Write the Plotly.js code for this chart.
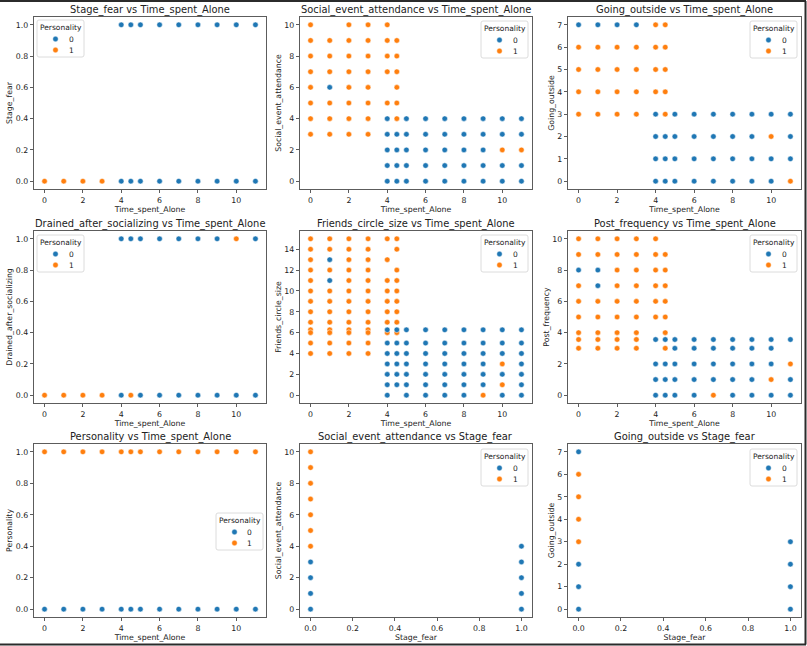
<!DOCTYPE html>
<html>
<head>
<meta charset="utf-8">
<script src="https://cdn.plot.ly/plotly-3.0.1.min.js"></script>
<style>
  html, body { margin: 0; padding: 0; background: #ffffff; }
  #chart { width: 807px; height: 646px; }
</style>
</head>
<body>
<div id="chart"></div>
<script>
// ---- Data: [x, y] pairs for each pair plot, split by Personality (0 / 1) ----
const personalityLabels = ['0', '1'];
const timeTicks = [0, 2, 4, 6, 8, 10];
const unitTicks = [0, 0.2, 0.4, 0.6, 0.8, 1.0];

// Stage_fear vs Time_spent_Alone
const stageFearTime0 = [[4,1],[4.5,1],[5,1],[6,1],[7,1],[8,1],[9,1],[10,1],[11,1],
                        [4,0],[4.5,0],[5,0],[6,0],[7,0],[8,0],[9,0],[10,0],[11,0]];
const stageFearTime1 = [[0,0],[1,0],[2,0],[3,0]];

// Social_event_attendance vs Time_spent_Alone
const socialTime0 = [[1,6],
  [4,4],[4,3],[4,2],[4,1],[4,0], [4.5,3],[4.5,2],[4.5,1],[4.5,0],
  [5,4],[5,3],[5,2],[5,1],[5,0], [6,4],[6,3],[6,2],[6,1],[6,0],
  [7,4],[7,3],[7,2],[7,1],[7,0], [8,4],[8,3],[8,2],[8,1],[8,0],
  [9,4],[9,3],[9,2],[9,1],[9,0], [10,4],[10,3],[10,1],[10,0],
  [11,4],[11,3],[11,1],[11,0]];
const socialTime1 = [
  [0,10],[0,9],[0,8],[0,7],[0,6],[0,5],[0,4],[0,3],
  [1,9],[1,8],[1,7],[1,5],[1,4],[1,3],
  [2,10],[2,9],[2,8],[2,7],[2,6],[2,5],[2,4],[2,3],
  [3,10],[3,9],[3,8],[3,7],[3,6],[3,5],[3,4],[3,3],
  [4,10],[4,9],[4,8],[4,7],[4,5],
  [4.5,9],[4.5,8],[4.5,7],[4.5,6],[4.5,5],[4.5,4],
  [10,2],[11,2]];

// Going_outside vs Time_spent_Alone
const goingTime0 = [[0,7],[1,7],[2,7],[3,7],
  [4,3],[4,2],[4,1],[4,0], [4.5,2],[4.5,1],[4.5,0],
  [5,3],[5,2],[5,1],[5,0], [6,3],[6,2],[6,1],[6,0],
  [7,3],[7,2],[7,1],[7,0], [8,3],[8,2],[8,1],[8,0],
  [9,3],[9,2],[9,1],[9,0], [10,3],[10,1],[10,0],
  [11,3],[11,2],[11,1]];
const goingTime1 = [
  [0,6],[0,5],[0,4],[0,3], [1,6],[1,5],[1,4],[1,3],
  [2,6],[2,5],[2,4],[2,3], [3,6],[3,5],[3,4],[3,3],
  [4,7],[4,6],[4,5],[4,4], [4.5,7],[4.5,6],[4.5,5],[4.5,4],[4.5,3],
  [10,2],[11,0]];

// Drained_after_socializing vs Time_spent_Alone
const drainedTime0 = [[4,1],[4.5,1],[5,1],[6,1],[7,1],[8,1],[9,1],[11,1],
                      [4,0],[5,0],[6,0],[7,0],[8,0],[9,0],[10,0],[11,0]];
const drainedTime1 = [[10,1],[0,0],[1,0],[2,0],[3,0],[4.5,0]];

// Friends_circle_size vs Time_spent_Alone (6.27 is the filled-in mean value)
const friendsTime0 = [[1,13],[1,11],
  [4,6.27],[4,5],[4,4],[4,3],[4,2],[4,1],[4,0],
  [4.5,6.27],[4.5,5],[4.5,4],[4.5,3],[4.5,2],[4.5,1],
  [5,6.27],[5,5],[5,4],[5,3],[5,2],[5,1],[5,0],
  [6,6.27],[6,5],[6,4],[6,3],[6,2],[6,1],[6,0],
  [7,6.27],[7,5],[7,4],[7,3],[7,2],[7,1],[7,0],
  [8,6.27],[8,5],[8,4],[8,3],[8,2],[8,1],[8,0],
  [9,6.27],[9,5],[9,4],[9,3],[9,2],[9,1],
  [10,6.27],[10,5],[10,4],[10,2],[10,0],
  [11,6.27],[11,5],[11,4],[11,3],[11,2],[11,1],[11,0]];
const friendsTime1 = [
  [0,15],[0,14],[0,13],[0,12],[0,11],[0,10],[0,9],[0,8],[0,7],[0,6.27],[0,6],[0,5],[0,4],
  [1,15],[1,14],[1,12],[1,10],[1,9],[1,8],[1,7],[1,6.27],[1,6],[1,5],[1,4],
  [2,15],[2,14],[2,13],[2,12],[2,11],[2,10],[2,9],[2,8],[2,7],[2,6.27],[2,6],[2,5],[2,4],
  [3,15],[3,14],[3,13],[3,12],[3,11],[3,10],[3,9],[3,8],[3,7],[3,6.27],[3,6],[3,5],[3,4],
  [4,15],[4,13],[4,11],[4,10],[4,9],[4,8],[4,7],[4,6],
  [4.5,15],[4.5,14],[4.5,12],[4.5,11],[4.5,10],[4.5,9],[4.5,8],[4.5,7],[4.5,6],
  [9,0],[10,3],[10,1]];

// Post_frequency vs Time_spent_Alone (3.56 is the filled-in mean value)
const postTime0 = [[0,8],[1,8],[1,7],
  [4,3.56],[4,2],[4,1],[4,0], [4.5,3.56],[4.5,2],[4.5,1],[4.5,0],
  [5,3.56],[5,3],[5,2],[5,1],[5,0], [6,3.56],[6,3],[6,2],[6,1],[6,0],
  [7,3.56],[7,3],[7,2],[7,1], [8,3.56],[8,3],[8,2],[8,1],[8,0],
  [9,3.56],[9,3],[9,2],[9,1],[9,0], [10,3.56],[10,3],[10,2],[10,0],
  [11,3.56],[11,1],[11,0]];
const postTime1 = [
  [0,10],[0,9],[0,7],[0,6],[0,5],[0,4],[0,3.56],[0,3],
  [1,10],[1,9],[1,6],[1,5],[1,4],[1,3.56],[1,3],
  [2,10],[2,9],[2,8],[2,7],[2,6],[2,5],[2,4],[2,3.56],[2,3],
  [3,10],[3,9],[3,8],[3,7],[3,6],[3,5],[3,4],[3,3.56],[3,3],
  [4,10],[4,9],[4,8],[4,7],[4,6],[4,5],
  [4.5,9],[4.5,8],[4.5,7],[4.5,6],[4.5,5],[4.5,4],[4.5,3],
  [7,0],[10,1],[11,2]];

// Personality vs Time_spent_Alone
const timeValues = [0, 1, 2, 3, 4, 4.5, 5, 6, 7, 8, 9, 10, 11];
const personalityTime0 = timeValues.map(t => [t, 0]);
const personalityTime1 = timeValues.map(t => [t, 1]);

// Social_event_attendance vs Stage_fear
const socialFear0 = [[0,3],[0,2],[0,1],[0,0],[1,4],[1,3],[1,2],[1,1],[1,0]];
const socialFear1 = [[0,10],[0,9],[0,8],[0,7],[0,6],[0,5],[0,4]];

// Going_outside vs Stage_fear
const goingFear0 = [[0,7],[0,2],[0,1],[0,0],[1,3],[1,2],[1,1],[1,0]];
const goingFear1 = [[0,6],[0,5],[0,4],[0,3]];

// ---- Layout geometry (pixels) ----
const W = 807, H = 646;
const colPx = [[34, 266], [300, 532], [568, 801]];
const rowPx = [[17, 189], [231, 403], [444, 617]];
const BLUE = '#1f77b4', ORANGE = '#ff7f0e';
const FONT = 'DejaVu Sans, Liberation Sans, sans-serif';
const TXT = '#222222';

const panels = [
  {title: 'Stage_fear vs Time_spent_Alone', xt: 'Time_spent_Alone', yt: 'Stage_fear',
   d0: stageFearTime0, d1: stageFearTime1, xs: 'time', ys: 'unit', leg: [37, 20]},
  {title: 'Social_event_attendance vs Time_spent_Alone', xt: 'Time_spent_Alone', yt: 'Social_event_attendance',
   d0: socialTime0, d1: socialTime1, xs: 'time', ys: 'ten', leg: [481, 21]},
  {title: 'Going_outside vs Time_spent_Alone', xt: 'Time_spent_Alone', yt: 'Going_outside',
   d0: goingTime0, d1: goingTime1, xs: 'time', ys: 'seven', leg: [750, 21]},
  {title: 'Drained_after_socializing vs Time_spent_Alone', xt: 'Time_spent_Alone', yt: 'Drained_after_socializing',
   d0: drainedTime0, d1: drainedTime1, xs: 'time', ys: 'unit', leg: [37, 235]},
  {title: 'Friends_circle_size vs Time_spent_Alone', xt: 'Time_spent_Alone', yt: 'Friends_circle_size',
   d0: friendsTime0, d1: friendsTime1, xs: 'time', ys: 'fifteen', leg: [481, 235]},
  {title: 'Post_frequency vs Time_spent_Alone', xt: 'Time_spent_Alone', yt: 'Post_frequency',
   d0: postTime0, d1: postTime1, xs: 'time', ys: 'ten', leg: [750, 235]},
  {title: 'Personality vs Time_spent_Alone', xt: 'Time_spent_Alone', yt: 'Personality',
   d0: personalityTime0, d1: personalityTime1, xs: 'time', ys: 'unit', leg: [216, 513]},
  {title: 'Social_event_attendance vs Stage_fear', xt: 'Stage_fear', yt: 'Social_event_attendance',
   d0: socialFear0, d1: socialFear1, xs: 'unit', ys: 'ten', leg: [481, 449]},
  {title: 'Going_outside vs Stage_fear', xt: 'Stage_fear', yt: 'Going_outside',
   d0: goingFear0, d1: goingFear1, xs: 'unit', ys: 'seven', leg: [750, 449]}
];

const scales = {
  time:    {range: [-0.55, 11.55], tickvals: timeTicks},
  unit:    {range: [-0.05, 1.05], tickvals: unitTicks, tickformat: '.1f'},
  ten:     {range: [-0.5, 10.5], tick0: 0, dtick: 2},
  seven:   {range: [-0.35, 7.35], tick0: 0, dtick: 1},
  fifteen: {range: [-0.75, 15.75], tick0: 0, dtick: 2}
};

function axis(scale, domain, titleText, anchor, isY) {
  const a = {
    domain: domain, anchor: anchor,
    range: scale.range.slice(),
    showline: true, mirror: true, linecolor: '#333333', linewidth: 0.8,
    ticks: 'outside', ticklen: 3.5, tickwidth: 0.8, tickcolor: '#333333',
    showgrid: false, zeroline: false, fixedrange: true,
    tickfont: {family: FONT, size: 7.8, color: TXT},
    title: {text: titleText, font: {family: FONT, size: 7.8, color: TXT}, standoff: isY ? 1 : 1}
  };
  if (scale.tickvals) { a.tickmode = 'array'; a.tickvals = scale.tickvals; }
  else { a.tickmode = 'linear'; a.tick0 = scale.tick0; a.dtick = scale.dtick; }
  if (scale.tickformat) a.tickformat = scale.tickformat;
  return a;
}

const px = v => v / W;          // horizontal pixel -> paper fraction
const py = v => 1 - v / H;      // vertical pixel (from top) -> paper fraction

const data = [];
const layout = {
  width: W, height: H,
  margin: {l: 0, r: 0, t: 0, b: 0},
  paper_bgcolor: '#ffffff', plot_bgcolor: '#ffffff',
  hovermode: false, showlegend: false,
  font: {family: FONT, color: TXT},
  annotations: [],
  shapes: []
};

// Small boxed key ("Personality" with 0 / 1) placed at a pixel position
function addKey(left, top) {
  const w = 47, h = 37, r = 2;
  const x0 = left, x1 = left + w, y0 = top, y1 = top + h;
  const path = [
    'M', px(x0 + r), py(y0), 'L', px(x1 - r), py(y0),
    'Q', px(x1), py(y0), px(x1), py(y0 + r),
    'L', px(x1), py(y1 - r),
    'Q', px(x1), py(y1), px(x1 - r), py(y1),
    'L', px(x0 + r), py(y1),
    'Q', px(x0), py(y1), px(x0), py(y1 - r),
    'L', px(x0), py(y0 + r),
    'Q', px(x0), py(y0), px(x0 + r), py(y0), 'Z'
  ].join(' ');
  layout.shapes.push({type: 'path', path: path, xref: 'paper', yref: 'paper', layer: 'above',
    fillcolor: 'rgba(255,255,255,0.85)', line: {color: '#d3d3d3', width: 0.8}});
  layout.annotations.push({text: 'Personality', xref: 'paper', yref: 'paper',
    x: px(left + 23.5), y: py(top + 7.5), xanchor: 'center', yanchor: 'middle', showarrow: false,
    font: {family: FONT, size: 7.5, color: TXT}});
  [[BLUE, personalityLabels[0], 19], [ORANGE, personalityLabels[1], 30]].forEach(([col, lab, dy]) => {
    const cx = left + 18.5, cy = top + dy, rad = 2.7;
    layout.shapes.push({type: 'circle', xref: 'paper', yref: 'paper', layer: 'above',
      x0: px(cx - rad), x1: px(cx + rad), y0: py(cy + rad), y1: py(cy - rad),
      fillcolor: col, line: {color: '#ffffff', width: 0.4}});
    layout.annotations.push({text: lab, xref: 'paper', yref: 'paper',
      x: px(left + 34), y: py(cy), xanchor: 'center', yanchor: 'middle', showarrow: false,
      font: {family: FONT, size: 7.5, color: TXT}});
  });
}

panels.forEach((p, i) => {
  const r = Math.floor(i / 3), c = i % 3;
  const n = i === 0 ? '' : String(i + 1);
  const xd = [px(colPx[c][0]), px(colPx[c][1])];
  const yd = [py(rowPx[r][1]), py(rowPx[r][0])];
  layout['xaxis' + n] = axis(scales[p.xs], xd, p.xt, 'y' + n, false);
  layout['yaxis' + n] = axis(scales[p.ys], yd, p.yt, 'x' + n, true);

  // orange drawn first so the blue marks sit on top where they touch
  [[p.d1, ORANGE, personalityLabels[1]], [p.d0, BLUE, personalityLabels[0]]].forEach(([pts, col, name]) => {
    data.push({
      type: 'scatter', mode: 'markers', name: name,
      x: pts.map(q => q[0]), y: pts.map(q => q[1]),
      xaxis: 'x' + n, yaxis: 'y' + n,
      marker: {color: col, size: 5.5, line: {color: '#ffffff', width: 0.5}},
      cliponaxis: false
    });
  });

  layout.annotations.push({
    text: p.title, xref: 'paper', yref: 'paper',
    x: px((colPx[c][0] + colPx[c][1]) / 2), y: py(rowPx[r][0] - 7),
    xanchor: 'center', yanchor: 'middle', showarrow: false,
    font: {family: FONT, size: 9.9, color: TXT}
  });

  addKey(p.leg[0], p.leg[1]);
});

// dark frame around the figure (top, right, bottom)
const frameLine = {type: 'line', xref: 'paper', yref: 'paper', line: {color: '#2b2b2b', width: 2}};
layout.shapes.push(Object.assign({}, frameLine, {x0: 0, x1: px(806), y0: py(1), y1: py(1)}));
layout.shapes.push(Object.assign({}, frameLine, {x0: px(805.5), x1: px(805.5), y0: py(1), y1: py(644.5)}));
layout.shapes.push(Object.assign({}, frameLine, {x0: 0, x1: px(806), y0: py(644.5), y1: py(644.5)}));

Plotly.newPlot('chart', data, layout, {staticPlot: true, displayModeBar: false});
</script>
</body>
</html>
